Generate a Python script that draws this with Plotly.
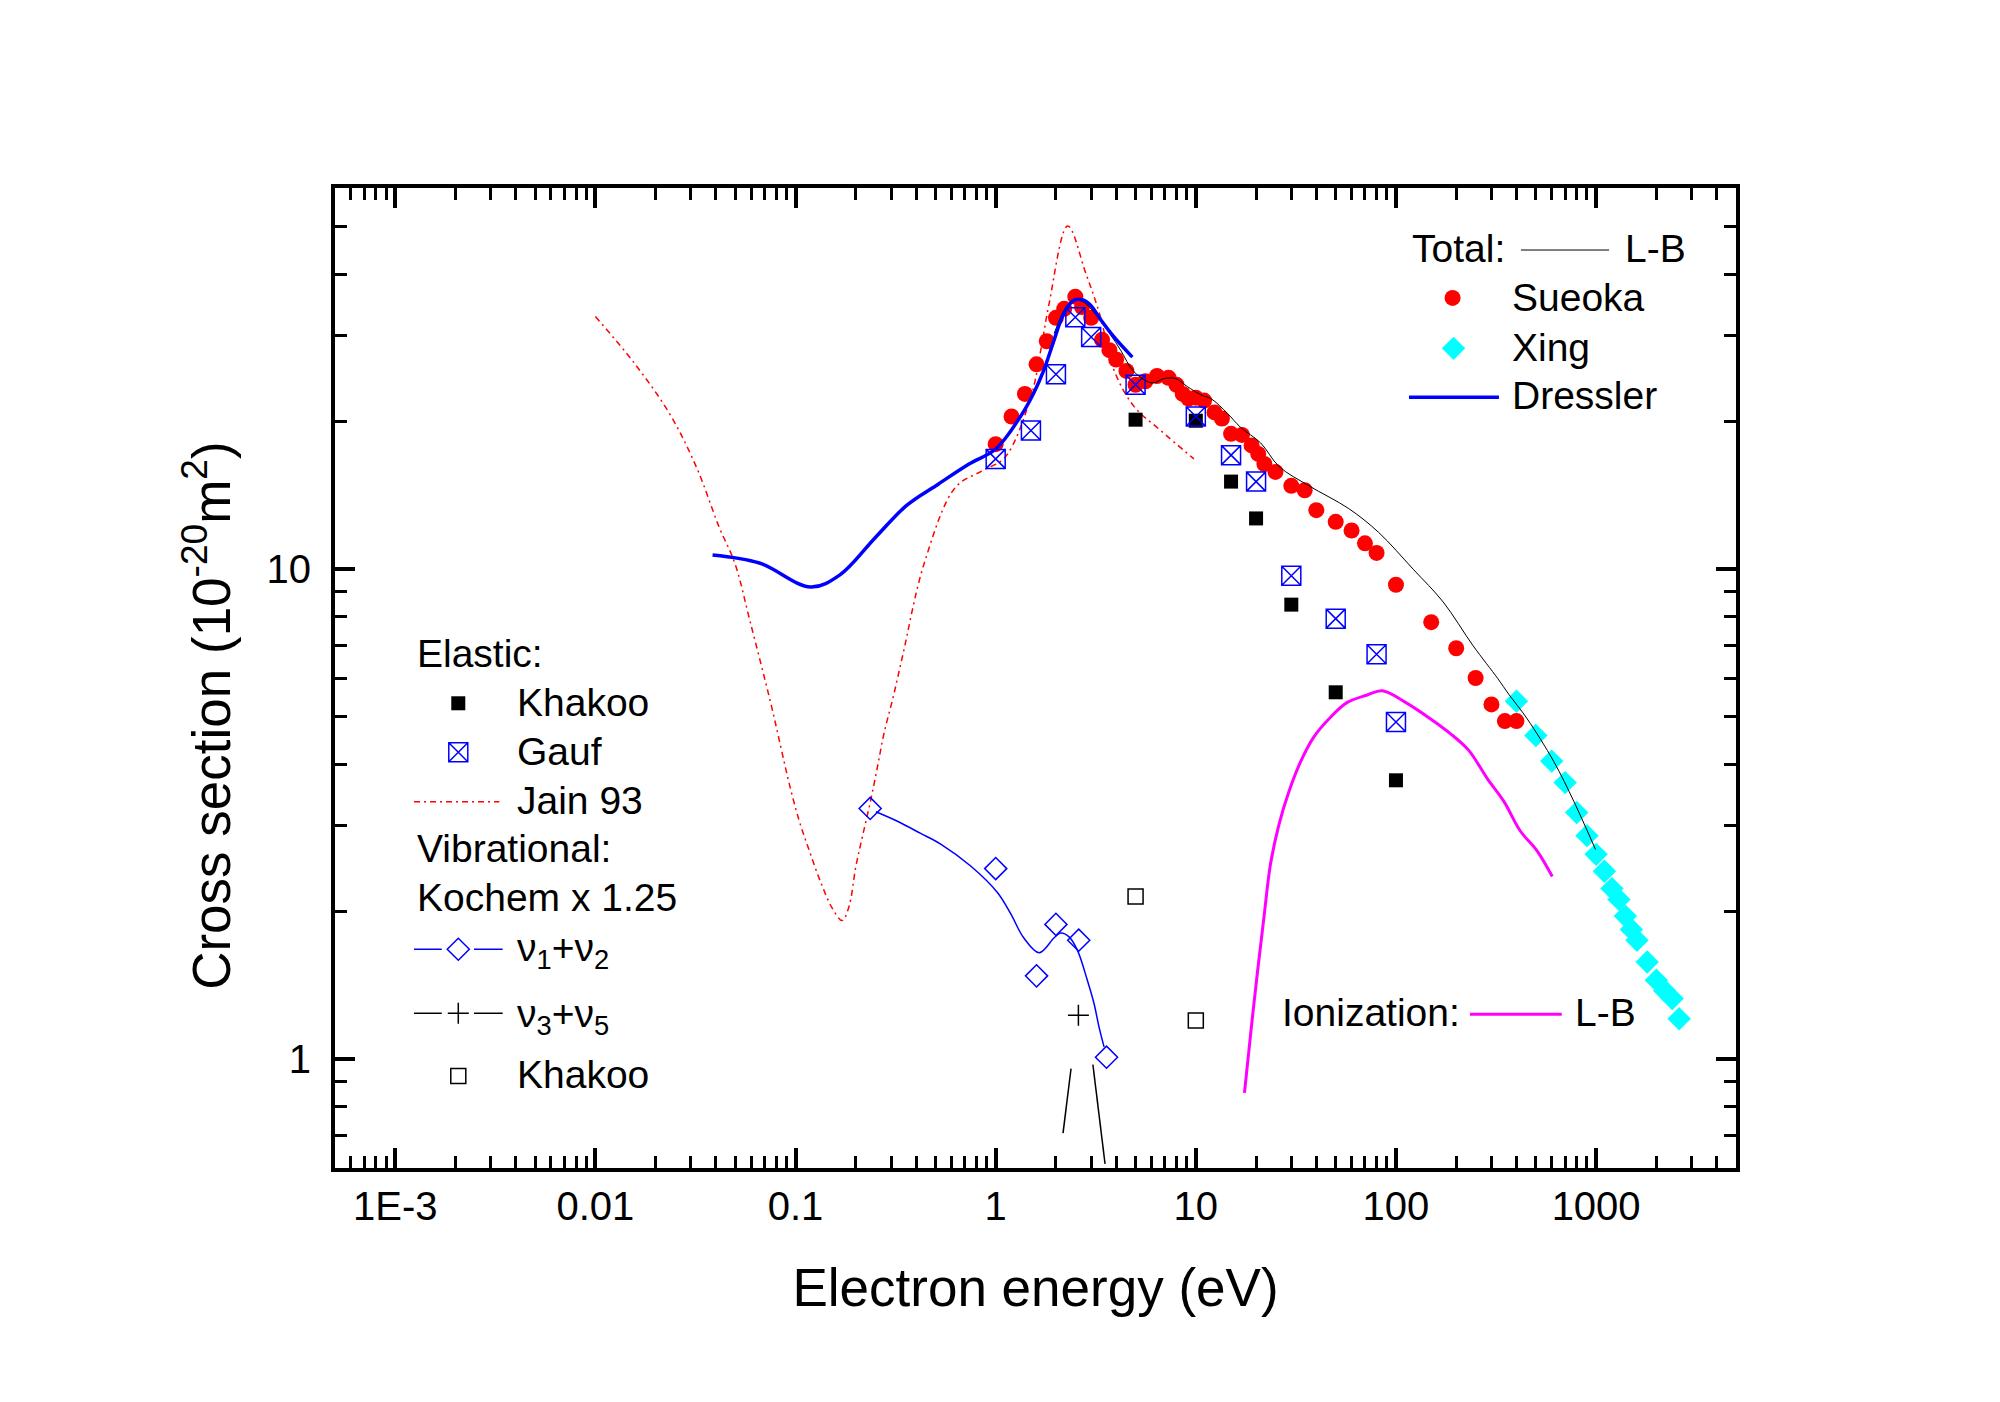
"""
Electron cross sections: total, elastic, vibrational and ionization
"""
import plotly.graph_objects as go

# ---- total ----
lb_total_e = [1.96, 2.37, 2.71, 3.22, 3.75, 4.21, 4.91, 6.06, 6.93, 7.93, 9.07, 10.6, 11.9, 14.4, 16.7,
              21.1, 26.1, 36.8, 58.1, 81.8, 122, 172, 243, 323, 366, 453, 615, 774, 993]
lb_total_cs = [30.3, 35.2, 35.2, 32.8, 30.1, 28.0, 25.3, 24.0, 24.5, 24.5, 23.6, 22.7, 22.3, 20.8, 19.5,
               18.1, 16.2, 14.8, 13.3, 11.9, 10.0, 8.58, 6.98, 5.98, 5.56, 4.95, 4.05, 3.36, 2.68]

sueoka_e = [1.0, 1.2, 1.4, 1.6, 1.8, 2.0, 2.2, 2.5, 2.7, 3.0, 3.4, 3.7, 4.0, 4.5, 5.0, 5.6, 6.4, 7.3, 8.0,
            8.6, 9.2, 10, 11, 12.4, 13.5, 15, 17, 19, 20.5, 22, 25, 30, 35, 40, 50, 60, 70, 80, 100,
            150, 200, 250, 300, 350, 400]
sueoka_cs = [18.0, 20.5, 22.8, 26.2, 29.2, 32.6, 34.0, 36.0, 34.3, 32.6, 29.4, 28.0, 26.8, 25.4, 23.8, 24.2,
             24.8, 24.6, 23.8, 22.8, 22.3, 22.4, 22.1, 20.9, 20.3, 18.9, 18.8, 17.9, 17.2, 16.4, 15.8,
             14.8, 14.5, 13.2, 12.5, 12.0, 11.3, 10.8, 9.3, 7.8, 6.9, 6.0, 5.3, 4.9, 4.9]

xing_e = [400, 500, 600, 700, 800, 900, 1000, 1100, 1200, 1300, 1400, 1500, 1600, 1800, 2000, 2200,
          2400, 2600]
xing_cs = [5.38, 4.58, 4.06, 3.67, 3.19, 2.86, 2.62, 2.42, 2.23, 2.12, 1.96, 1.84, 1.75, 1.58, 1.45,
           1.38, 1.33, 1.21]

dressler_e = [0.0385, 0.066, 0.119, 0.166, 0.25, 0.359, 0.514, 0.736, 1.0, 1.33, 1.55, 1.74, 1.96, 2.19,
              2.46, 2.71, 2.98, 3.35, 3.90, 4.82]
dressler_cs = [10.7, 10.3, 9.2, 9.73, 11.6, 13.5, 14.9, 16.4, 17.6, 20.5, 22.9, 25.5, 29.4, 33.3,
               35.4, 35.5, 34.6, 32.3, 29.8, 27.1]

# ---- elastic ----
khakoo_el_e = [5, 10, 15, 20, 30, 50, 100]
khakoo_el_cs = [20.2, 20.1, 15.1, 12.7, 8.47, 5.61, 3.71]

gauf_e = [1, 1.5, 2, 2.5, 3, 5, 10, 15, 20, 30, 50, 80, 100]
gauf_cs = [16.8, 19.2, 25.0, 32.7, 29.8, 23.8, 20.5, 17.1, 15.1, 9.7, 7.93, 6.71, 4.88]

jain_e = [0.01, 0.0157, 0.0236, 0.0321, 0.0415, 0.0497, 0.0594, 0.0752, 0.0843, 0.0929, 0.104, 0.117,
          0.134, 0.153, 0.171, 0.185, 0.2, 0.216, 0.2375, 0.2566, 0.2768, 0.305, 0.342, 0.44, 0.63,
          0.86, 1.11, 1.5, 1.68, 1.85, 2.29, 2.82, 3.32, 3.90, 4.91, 6.67, 9.78]
jain_cs = [32.8, 26.3, 20.7, 16.1, 12.2, 10.3, 7.8, 5.33, 4.35, 3.66, 3.08, 2.67, 2.29, 2.03, 1.92,
           2.05, 2.47, 2.85, 3.38, 3.95, 4.63, 5.41, 6.63, 10.3, 14.7, 15.9, 16.9, 22.5, 28.0, 34.9,
           50.2, 40.2, 33.0, 25.5, 21.5, 19.2, 16.8]

# ---- vibrational (Kochem x 1.25) ----
v12_line_e = [0.252, 0.323, 0.422, 0.531, 0.75, 1.02, 1.19, 1.38, 1.65, 1.96, 2.11, 2.32, 2.56, 2.87,
              3.10, 3.28, 3.48]
v12_line_cs = [3.20, 3.06, 2.89, 2.75, 2.48, 2.19, 1.98, 1.77, 1.65, 1.77, 1.81, 1.78, 1.67, 1.45,
               1.30, 1.166, 1.06]
v12_e = [0.236, 1.0, 1.6, 2.0, 2.6, 3.58]
v12_cs = [3.25, 2.45, 1.48, 1.885, 1.75, 1.01]

v35_line_e = [2.17, 2.38, None, 3.06, 3.52]
v35_line_cs = [0.707, 0.957, None, 0.975, 0.612]
v35_e = [2.59]
v35_cs = [1.23]

khakoo_vib_e = [5, 10]
khakoo_vib_cs = [2.15, 1.20]

# ---- ionization ----
ion_e = [17.5, 18.8, 20.3, 21.9, 23.6, 26.0, 29.2, 33.4, 38.9, 47.1, 57.1, 71.9, 85.5, 110, 149, 187,
         231, 286, 346, 419, 508, 604]
ion_cs = [0.854, 1.13, 1.50, 1.95, 2.50, 3.01, 3.52, 4.05, 4.55, 4.99, 5.35, 5.54, 5.65, 5.37, 4.95,
          4.62, 4.27, 3.74, 3.36, 2.92, 2.66, 2.36]

x_tick_vals = [0.001, 0.01, 0.1, 1, 10, 100, 1000]
x_tick_text = ['1E-3', '0.01', '0.1', '1', '10', '100', '1000']
y_tick_vals = [1, 10]
y_tick_text = ['1', '10']

FONT = 'Liberation Sans'
RED = '#FF0000'
BLUE = '#0000FF'
CYAN = '#00FFFF'
MAGENTA = '#FF00FF'

sueoka_marker = dict(symbol='circle', size=16, color=RED)
xing_marker = dict(symbol='diamond', size=18, color=CYAN)
khakoo_marker = dict(symbol='square', size=14, color='black')
gauf_marker = dict(symbol='square-x-open', size=19, color=BLUE, line=dict(width=1.5, color=BLUE))
v12_marker = dict(symbol='diamond-open', size=17, color=BLUE, line=dict(width=1.5, color=BLUE))
v35_marker = dict(symbol='cross-thin-open', size=15, color='black', line=dict(width=1.5, color='black'))
kvib_marker = dict(symbol='square-open', size=15, color='black', line=dict(width=1.5, color='black'))
jain_line = dict(color=RED, width=1.5, dash='6px,4px,2px,4px')


def add_series(fig: go.Figure) -> None:
    fig.add_trace(go.Scatter(x=jain_e, y=jain_cs, mode='lines', line=jain_line, line_shape='spline'))
    fig.add_trace(go.Scatter(x=sueoka_e, y=sueoka_cs, mode='markers', marker=sueoka_marker))
    fig.add_trace(go.Scatter(x=xing_e, y=xing_cs, mode='markers', marker=xing_marker))
    fig.add_trace(go.Scatter(x=khakoo_el_e, y=khakoo_el_cs, mode='markers', marker=khakoo_marker))
    fig.add_trace(go.Scatter(x=gauf_e, y=gauf_cs, mode='markers', marker=gauf_marker))
    fig.add_trace(go.Scatter(x=lb_total_e, y=lb_total_cs, mode='lines', line=dict(color='black', width=1),
                             line_shape='spline'))
    fig.add_trace(go.Scatter(x=dressler_e, y=dressler_cs, mode='lines', line=dict(color=BLUE, width=3.5),
                             line_shape='spline'))
    fig.add_trace(go.Scatter(x=ion_e, y=ion_cs, mode='lines', line=dict(color=MAGENTA, width=3),
                             line_shape='spline'))
    fig.add_trace(go.Scatter(x=v12_line_e, y=v12_line_cs, mode='lines', line=dict(color=BLUE, width=1.5),
                             line_shape='spline'))
    fig.add_trace(go.Scatter(x=v12_e, y=v12_cs, mode='markers', marker=v12_marker))
    fig.add_trace(go.Scatter(x=v35_line_e, y=v35_line_cs, mode='lines', line=dict(color='black', width=1.5)))
    fig.add_trace(go.Scatter(x=v35_e, y=v35_cs, mode='markers', marker=v35_marker))
    fig.add_trace(go.Scatter(x=khakoo_vib_e, y=khakoo_vib_cs, mode='markers', marker=kvib_marker))


def key_line(fig, x0, x1, y, line):
    fig.add_trace(go.Scatter(x=[x0, x1], y=[y, y], mode='lines', line=line, xaxis='x2', yaxis='y2'))


def key_marker(fig, x, y, marker):
    fig.add_trace(go.Scatter(x=[x], y=[y], mode='markers', marker=marker, xaxis='x2', yaxis='y2'))


def key_text(fig, x, y, text):
    fig.add_annotation(x=x, y=y, xref='paper', yref='paper', text=text, showarrow=False,
                       xanchor='left', yanchor='middle', font=dict(family=FONT, size=39, color='black'))


def add_legends(fig: go.Figure) -> None:
    # top right: total
    key_text(fig, 0.767, 0.938, 'Total:')
    key_line(fig, 0.8465, 0.9094, 0.9367, dict(color='black', width=1))
    key_text(fig, 0.919, 0.938, 'L-B')
    key_marker(fig, 0.7977, 0.8878, sueoka_marker)
    key_text(fig, 0.839, 0.8885, 'Sueoka')
    key_marker(fig, 0.7984, 0.8364, xing_marker)
    key_text(fig, 0.839, 0.8375, 'Xing')
    key_line(fig, 0.7666, 0.8308, 0.7864, dict(color=BLUE, width=3.5))
    key_text(fig, 0.839, 0.7880, 'Dressler')

    # left: elastic and vibrational
    key_text(fig, 0.057, 0.5247, 'Elastic:')
    key_marker(fig, 0.088, 0.4742, khakoo_marker)
    key_text(fig, 0.1285, 0.4750, 'Khakoo')
    key_marker(fig, 0.088, 0.4242, gauf_marker)
    key_text(fig, 0.1285, 0.4248, 'Gauf')
    key_line(fig, 0.0564, 0.1173, 0.3738, jain_line)
    key_text(fig, 0.1285, 0.3755, 'Jain 93')
    key_text(fig, 0.057, 0.3258, 'Vibrational:')
    key_text(fig, 0.057, 0.2762, 'Kochem x 1.25')
    key_line(fig, 0.0564, 0.0762, 0.2232, dict(color=BLUE, width=1.5))
    key_line(fig, 0.0992, 0.1197, 0.2232, dict(color=BLUE, width=1.5))
    key_marker(fig, 0.088, 0.2232, v12_marker)
    key_text(fig, 0.1285, 0.2215, 'ν<sub>1</sub>+ν<sub>2</sub>')
    key_line(fig, 0.0564, 0.0762, 0.1579, dict(color='black', width=1.5))
    key_line(fig, 0.0992, 0.1197, 0.1579, dict(color='black', width=1.5))
    key_marker(fig, 0.088, 0.1579, v35_marker)
    key_text(fig, 0.1285, 0.1545, 'ν<sub>3</sub>+ν<sub>5</sub>')
    key_marker(fig, 0.088, 0.0939, kvib_marker)
    key_text(fig, 0.1285, 0.0959, 'Khakoo')

    # ionization
    key_text(fig, 0.6745, 0.1585, 'Ionization:')
    key_line(fig, 0.8101, 0.8756, 0.1568, dict(color=MAGENTA, width=3))
    key_text(fig, 0.8834, 0.1585, 'L-B')


def main():
    fig = go.Figure()
    add_series(fig)
    add_legends(fig)

    axis_common = dict(
        type='log', showline=True, linecolor='black', linewidth=4, mirror='allticks',
        ticks='inside', ticklen=20, tickwidth=3.5, tickcolor='black', showgrid=False, zeroline=False,
        tickfont=dict(family=FONT, size=40, color='black'),
        minor=dict(ticks='inside', ticklen=12, tickwidth=3, tickcolor='black', dtick='D1', showgrid=False),
    )
    fig.update_layout(
        width=2000, height=1402,
        # page body adds 8px, so margins are shifted by that much
        margin=dict(l=327, r=272, t=180, b=242),
        paper_bgcolor='white', plot_bgcolor='white',
        showlegend=False,
        font=dict(family=FONT, color='black'),
        xaxis=dict(axis_common, range=[-3.30103, 3.69897], tickmode='array',
                   tickvals=x_tick_vals, ticktext=x_tick_text, ticklabelstandoff=0,
                   title=dict(text='Electron energy (eV)', font=dict(family=FONT, size=53), standoff=43)),
        yaxis=dict(axis_common, range=[-0.221849, 1.778151], tickmode='array',
                   tickvals=y_tick_vals, ticktext=y_tick_text, ticklabelstandoff=12),
        xaxis2=dict(overlaying='x', range=[0, 1], visible=False),
        yaxis2=dict(overlaying='y', range=[0, 1], visible=False),
    )
    fig.add_annotation(x=-0.117, y=0.461, xref='paper', yref='paper', showarrow=False, textangle=-90,
                       text='Cross section (10<sup>-20</sup>m<sup>2</sup>)',
                       font=dict(family=FONT, size=53, color='black'))
    fig.write_html("out.html")


if __name__ == "__main__":
    main()
